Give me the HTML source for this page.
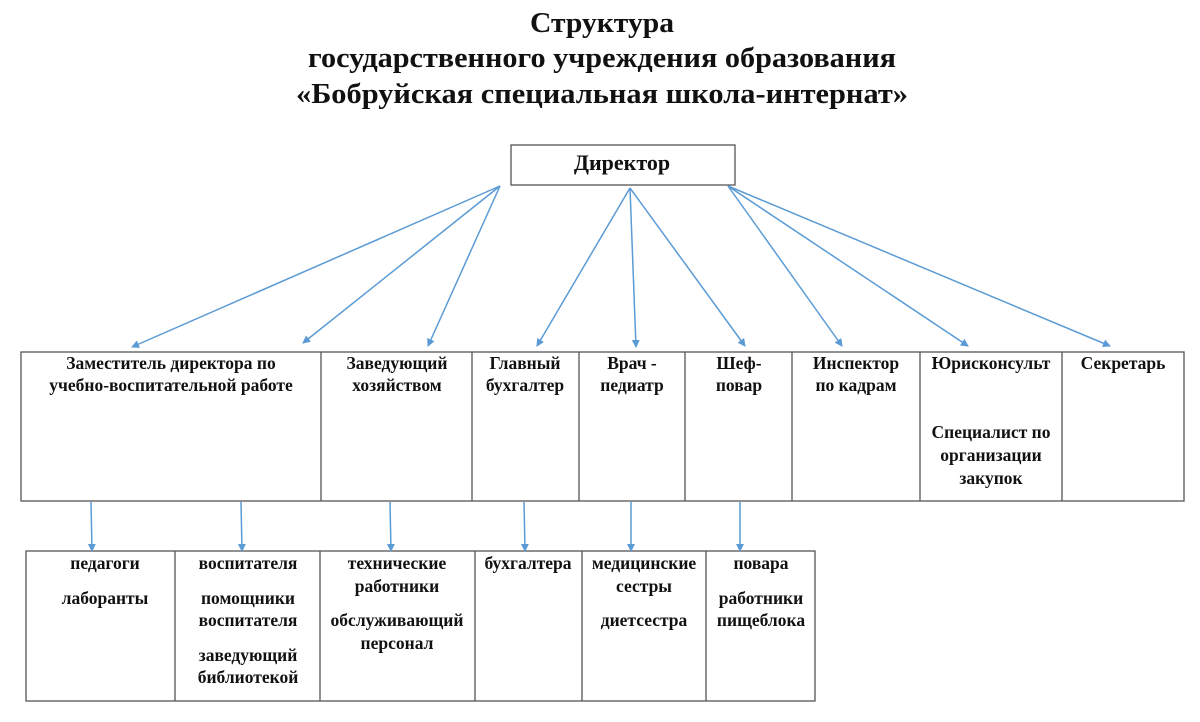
<!DOCTYPE html>
<html><head><meta charset="utf-8"><style>
html,body{margin:0;padding:0;background:#fff;}
svg{display:block;}
text{font-family:"Liberation Serif",serif;font-weight:bold;fill:#111;}
.t{font-size:29px;}
.c{font-size:17.5px;}
</style></head><body>
<svg width="1200" height="722" viewBox="0 0 1200 722" xmlns="http://www.w3.org/2000/svg">
<defs><marker id="a" markerWidth="8" markerHeight="8" refX="7" refY="4" orient="auto" markerUnits="userSpaceOnUse"><path d="M0,0 L8,4 L0,8 z" fill="#5b9bd5"/></marker></defs>
<text class="t" x="602" y="32" text-anchor="middle" textLength="144" lengthAdjust="spacingAndGlyphs">Структура</text>
<text class="t" x="602" y="67" text-anchor="middle" textLength="588" lengthAdjust="spacingAndGlyphs">государственного учреждения образования</text>
<text class="t" x="602" y="103" text-anchor="middle" textLength="612" lengthAdjust="spacingAndGlyphs">«Бобруйская специальная школа-интернат»</text>
<g fill="none" stroke="#555" stroke-width="1.3">
<rect x="511" y="145" width="224" height="40"/>
<rect x="21" y="352" width="1163" height="149"/>
<line x1="321" y1="352" x2="321" y2="501"/><line x1="472" y1="352" x2="472" y2="501"/>
<line x1="579" y1="352" x2="579" y2="501"/><line x1="685" y1="352" x2="685" y2="501"/>
<line x1="792" y1="352" x2="792" y2="501"/><line x1="920" y1="352" x2="920" y2="501"/>
<line x1="1062" y1="352" x2="1062" y2="501"/>
<rect x="26" y="551" width="789" height="150"/>
<line x1="175" y1="551" x2="175" y2="701"/><line x1="320" y1="551" x2="320" y2="701"/>
<line x1="475" y1="551" x2="475" y2="701"/><line x1="582" y1="551" x2="582" y2="701"/>
<line x1="706" y1="551" x2="706" y2="701"/>
</g>
<g stroke="#5b9bd5" stroke-width="1.5" marker-end="url(#a)">
<line x1="500" y1="186" x2="132" y2="347"/>
<line x1="500" y1="186" x2="303" y2="343"/>
<line x1="500" y1="186" x2="428" y2="346"/>
<line x1="630" y1="188" x2="537" y2="346"/>
<line x1="630" y1="188" x2="636" y2="347"/>
<line x1="630" y1="188" x2="745" y2="346"/>
<line x1="728" y1="186" x2="842" y2="346"/>
<line x1="728" y1="186" x2="968" y2="346"/>
<line x1="728" y1="186" x2="1110" y2="346"/>
<line x1="91" y1="502" x2="92" y2="551"/>
<line x1="241" y1="502" x2="242" y2="551"/>
<line x1="390" y1="502" x2="391" y2="551"/>
<line x1="524" y1="502" x2="525" y2="551"/>
<line x1="631" y1="502" x2="631" y2="551"/>
<line x1="740" y1="502" x2="740" y2="551"/>
</g>
<text x="622" y="170" text-anchor="middle" style="font-size:22px">Директор</text>
<g text-anchor="middle">
<text class="c" x="171" y="369">Заместитель директора по</text>
<text class="c" x="171" y="391">учебно-воспитательной работе</text>
<text class="c" x="397" y="369">Заведующий</text><text class="c" x="397" y="391">хозяйством</text>
<text class="c" x="525" y="369">Главный</text><text class="c" x="525" y="391">бухгалтер</text>
<text class="c" x="632" y="369">Врач -</text><text class="c" x="632" y="391">педиатр</text>
<text class="c" x="739" y="369">Шеф-</text><text class="c" x="739" y="391">повар</text>
<text class="c" x="856" y="369">Инспектор</text><text class="c" x="856" y="391">по кадрам</text>
<text class="c" x="991" y="369">Юрисконсульт</text>
<text class="c" x="991" y="438">Специалист по</text><text class="c" x="991" y="461">организации</text><text class="c" x="991" y="484">закупок</text>
<text class="c" x="1123" y="369">Секретарь</text>
<text class="c" x="105" y="569">педагоги</text><text class="c" x="105" y="604">лаборанты</text>
<text class="c" x="248" y="569">воспитателя</text><text class="c" x="248" y="604">помощники</text><text class="c" x="248" y="626">воспитателя</text><text class="c" x="248" y="661">заведующий</text><text class="c" x="248" y="683">библиотекой</text>
<text class="c" x="397" y="569">технические</text><text class="c" x="397" y="592">работники</text><text class="c" x="397" y="626">обслуживающий</text><text class="c" x="397" y="649">персонал</text>
<text class="c" x="528" y="569">бухгалтера</text>
<text class="c" x="644" y="569">медицинские</text><text class="c" x="644" y="592">сестры</text><text class="c" x="644" y="626">диетсестра</text>
<text class="c" x="761" y="569">повара</text><text class="c" x="761" y="604">работники</text><text class="c" x="761" y="626">пищеблока</text>
</g>
</svg>
</body></html>
